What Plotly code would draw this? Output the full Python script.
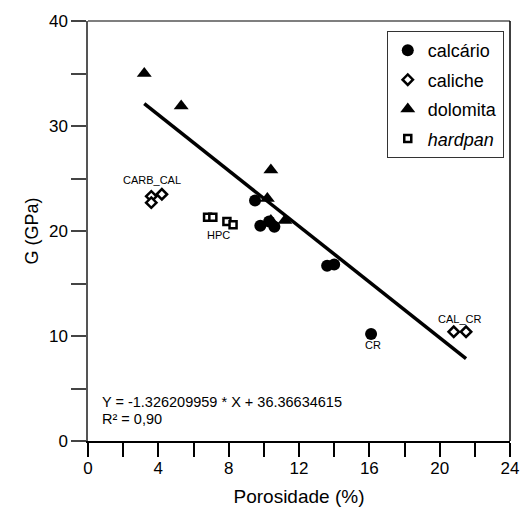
import plotly.graph_objects as go
import numpy as np

# ---- data ----
calcario_x = [9.5, 9.8, 10.3, 10.6, 13.6, 14.0, 16.1]
calcario_y = [22.9, 20.5, 20.9, 20.4, 16.7, 16.8, 10.2]

caliche_x = [3.6, 4.2, 3.6, 20.8, 21.5]
caliche_y = [23.3, 23.5, 22.7, 10.4, 10.4]

dolomita_x = [3.2, 5.3, 10.4, 10.2, 10.4, 11.2]
dolomita_y = [35.0, 31.9, 25.8, 23.1, 21.0, 21.0]

hardpan_x = [6.8, 7.1, 7.9, 8.25]
hardpan_y = [21.3, 21.3, 20.9, 20.6]

slope = -1.326209959
intercept = 36.36634615
r2_text = "0,90"

labels = ["CARB_CAL", "HPC", "CR", "CAL_CR"]
label_x = [3.65, 7.4, 16.2, 21.15]
label_y = [24.9, 19.6, 9.1, 11.6]

x_ticks = list(range(0, 25, 2))
x_ticktext = [str(v) if v % 4 == 0 else "" for v in x_ticks]
y_ticks = list(range(0, 41, 5))
y_ticktext = [str(v) if v % 10 == 0 else "" for v in y_ticks]

FONT = "Liberation Sans, Arial, sans-serif"

all_x = calcario_x + caliche_x + dolomita_x + hardpan_x
fit_x = np.array([min(all_x), max(all_x)])
fit_y = slope * fit_x + intercept

fig = go.Figure()

fig.add_trace(go.Scatter(x=fit_x, y=fit_y, mode="lines",
                         line=dict(color="black", width=3.5),
                         showlegend=False, hoverinfo="skip"))

fig.add_trace(go.Scatter(x=calcario_x, y=calcario_y, mode="markers", name="calcário",
                         legendgroup="a",
                         marker=dict(symbol="circle", size=12, color="black")))
fig.add_trace(go.Scatter(x=caliche_x, y=caliche_y, mode="markers", name="caliche",
                         legendgroup="b",
                         marker=dict(symbol="diamond", size=8, color="white",
                                     line=dict(color="black", width=2.5))))
fig.add_trace(go.Scatter(x=dolomita_x, y=dolomita_y, mode="markers", name="dolomita",
                         legendgroup="c",
                         marker=dict(symbol="triangle-up", size=13, color="black")))
fig.add_trace(go.Scatter(x=hardpan_x, y=hardpan_y, mode="markers", name="<i>hardpan</i>",
                         legendgroup="d",
                         marker=dict(symbol="square", size=7, color="white",
                                     line=dict(color="black", width=2.5))))

for t, lx, ly in zip(labels, label_x, label_y):
    fig.add_annotation(x=lx, y=ly, text=t, showarrow=False,
                       font=dict(family=FONT, size=11, color="black"))

fig.add_annotation(x=0.68, y=3.7, xref="x", yref="y", xanchor="left", yanchor="middle",
                   text=f"Y = {slope} * X + {intercept}", showarrow=False,
                   font=dict(family=FONT, size=14.5, color="black"))
fig.add_annotation(x=0.68, y=2.1, xref="x", yref="y", xanchor="left", yanchor="middle",
                   text=f"R² = {r2_text}", showarrow=False,
                   font=dict(family=FONT, size=14.5, color="black"))

# frame top and right
fig.add_shape(type="line", xref="paper", yref="paper", x0=0, x1=1, y0=1, y1=1,
              line=dict(color="#555", width=1.5))
fig.add_shape(type="line", xref="paper", yref="paper", x0=1, x1=1, y0=0, y1=1,
              line=dict(color="black", width=1.5))

fig.update_layout(
    width=522, height=512,
    margin=dict(l=88, r=12, t=21, b=71),
    paper_bgcolor="white", plot_bgcolor="white",
    font=dict(family=FONT, size=17, color="black"),
    showlegend=True,
    legend=dict(x=0.708, y=0.976, xanchor="left", yanchor="top",
                bordercolor="#333", borderwidth=1, bgcolor="white",
                font=dict(family=FONT, size=18, color="black"),
                tracegroupgap=3, traceorder="grouped", itemwidth=30),
    xaxis=dict(range=[0, 24], tickvals=x_ticks, ticktext=x_ticktext,
               ticks="outside", ticklen=14, tickwidth=1.5, tickcolor="black",
               showline=True, linecolor="black", linewidth=1.5,
               showgrid=False, zeroline=False, ticklabelstandoff=-3,
               automargin=False,
               title=dict(text="Porosidade (%)", font=dict(size=19), standoff=13),
               tickfont=dict(size=17)),
    yaxis=dict(range=[0, 40], tickvals=y_ticks, ticktext=y_ticktext,
               ticks="outside", ticklen=15, tickwidth=1.5, tickcolor="#444",
               showline=True, linecolor="#555", linewidth=1.5,
               showgrid=False, zeroline=False, automargin=False,
               title=dict(text="G (GPa)", font=dict(size=18), standoff=6),
               tickfont=dict(size=17)),
)

fig.write_html("out.html")
